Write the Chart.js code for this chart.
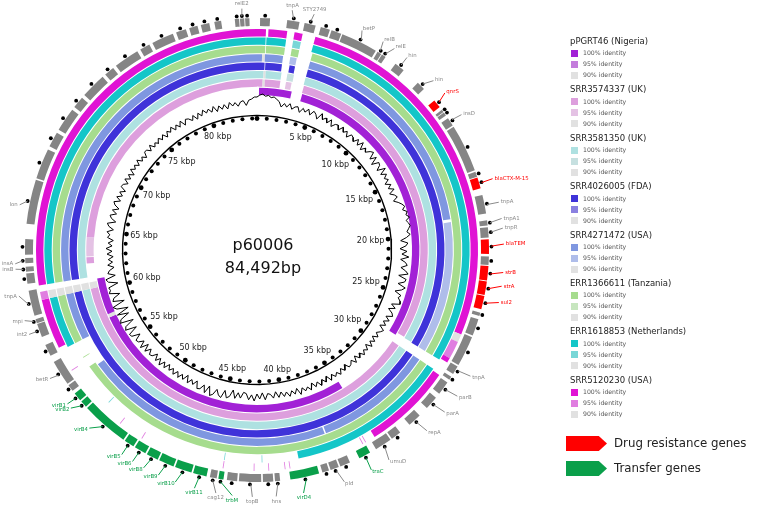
<!DOCTYPE html>
<html><head><meta charset="utf-8">
<script src="https://cdn.jsdelivr.net/npm/chart.js@4.4.0/dist/chart.umd.min.js"></script>
<style>
html,body{margin:0;padding:0;background:#fff;}
body{width:760px;height:505px;overflow:hidden;position:relative;font-family:"DejaVu Sans",sans-serif;}
canvas{position:absolute;left:0;top:0;}
.t{position:absolute;left:570px;font-size:8.5px;color:#222;white-space:nowrap;line-height:10px;}
.i{position:absolute;left:571px;font-size:6.2px;color:#555;white-space:nowrap;line-height:8px;}
.i span{display:inline-block;width:7px;height:7px;vertical-align:middle;margin-right:5px;}
.ttl{position:absolute;font-size:16px;color:#111;width:120px;text-align:center;line-height:18px;}
.arr{position:absolute;left:566px;width:41px;height:15px;clip-path:polygon(0 0,80% 0,100% 50%,80% 100%,0 100%);}
.big{position:absolute;left:614px;font-size:11.8px;color:#222;white-space:nowrap;line-height:14px;}
</style></head><body>
<canvas id="ring" width="760" height="505"></canvas>
<canvas id="over" width="760" height="505"></canvas>
<div class="ttl" style="left:203px;top:236px">p60006</div>
<div class="ttl" style="left:203px;top:259px">84,492bp</div>
<div id="legend"></div>
<div class="arr" style="top:436px;background:#f00"></div>
<div class="big" style="top:436px">Drug resistance genes</div>
<div class="arr" style="top:461px;background:#0a9f4a"></div>
<div class="big" style="top:461px">Transfer genes</div>
<script>
// ---------------- data ----------------
const GENOME = 84.492; // kbp
const sampleNames = ["pPGRT46 (Nigeria)","SRR3574337 (UK)","SRR3581350 (UK)","SRR4026005 (FDA)","SRR4271472 (USA)","ERR1366611 (Tanzania)","ERR1618853 (Netherlands)","SRR5120230 (USA)"];
const identityLevels = ["100% identity","95% identity","90% identity"];
const color100 = ["#a221d6","#dd9fdd","#aee1e1","#3f33d9","#7f97e0","#a6dc8e","#14c6c8","#e013d4"];
const color95  = ["#c47ddc","#e4c2e4","#c6e0e0","#8a80e0","#afbdea","#c7e6bf","#78d7d7","#e07ee0"];
const color90  = ["#e1e1e1","#e1e1e1","#e1e1e1","#e1e1e1","#e1e1e1","#e1e1e1","#e1e1e1","#e1e1e1"];

const hitsPPGRT46 = [[0.17,2.9,100],[3.8,28.5,100],[34.8,57.6,100],[57.6,57.9,90],[57.9,61.0,100]];
const hitsSRR3574337 = [[0,0.45,100],[0.45,0.62,90],[0.62,1.85,100],[2.3,2.75,95],[3.75,28.3,100],[29.1,60.3,100],[60.3,60.8,90],[62.3,62.8,100],[62.85,64.4,95],[64.4,84.492,100]];
const hitsSRR3581350 = [[0,0.5,100],[0.5,0.65,90],[0.65,1.85,100],[2.3,2.8,95],[3.7,28.35,100],[29.1,60.3,100],[60.3,60.8,90],[61.2,84.492,100]];
const hitsSRR4026005 = [[0,0.55,100],[0.6,1.8,100],[2.35,2.75,100],[3.7,28.4,100],[29.1,60.3,100],[60.3,60.8,90],[61.2,84.492,100]];
const hitsSRR4271472 = [[0,0.35,100],[0.35,0.55,90],[0.55,1.8,100],[2.3,2.75,95],[3.7,19.0,100],[19.2,28.4,95],[29.1,37.4,100],[37.5,55.0,100],[57.0,60.3,100],[60.3,60.8,90],[61.2,84.492,100]];
const hitsERR1366611 = [[0,0.55,100],[0.6,1.85,100],[2.3,2.8,100],[3.7,28.4,100],[29.1,55.2,100],[55.9,55.95,100],[57.0,60.3,100],[60.3,60.8,90],[61.2,84.492,100]];
const hitsERR1618853 = [[0,0.55,100],[0.6,1.85,100],[2.3,2.8,95],[3.6,28.4,100],[29.1,39.6,100],[41.9,41.95,95],[44.3,44.35,95],[52.6,52.65,95],[57.0,60.3,100],[60.3,60.8,90],[61.2,84.492,100]];
const hitsSRR5120230 = [[0,0.55,100],[0.7,1.85,100],[2.3,2.8,100],[3.6,26.4,100],[26.4,26.9,90],[26.9,28.0,95],[28.0,28.3,100],[29.2,34.7,100],[35.3,35.35,95],[35.5,35.55,95],[40.2,40.25,95],[40.5,40.55,95],[41.5,41.55,95],[42.4,42.45,95],[44.3,44.35,95],[49.6,49.65,95],[51.2,51.25,95],[55.6,55.65,95],[57.2,60.3,100],[60.3,60.8,95],[61.2,84.492,100]];
const sampleHits = [hitsPPGRT46,hitsSRR3574337,hitsSRR3581350,hitsSRR4026005,hitsSRR4271472,hitsERR1366611,hitsERR1618853,hitsSRR5120230];

const genes = [[67.6,69.4,"g"],[69.6,70.5,"g"],[70.7,72.1,"g"],[72.3,73.0,"g"],[73.2,74.7,"g"],[74.9,75.5,"g"],[75.7,77.2,"g"],[77.4,78.0,"g"],[78.2,79.5,"g"],[79.7,80.3,"g"],[80.5,81.0,"g"],[81.2,81.7,"g"],[82.0,82.4,"g"],[83.2,83.45,"g"],[83.5,83.75,"g"],[83.8,84.05,"g"],[0.18,0.76,"g"],[1.76,2.48,"g"],[2.78,3.44,"g"],[3.75,4.3,"g"],[4.4,5.0,"g"],[5.07,7.23,"g"],[7.35,7.6,"g"],[7.65,7.9,"g"],[8.6,9.2,"g"],[10.3,10.8,"g"],[11.7,12.2,"r"],[12.4,12.55,"g"],[12.6,12.8,"g"],[13.0,13.5,"g"],[13.6,16.4,"g"],[16.5,16.8,"g"],[16.85,17.5,"r"],[17.9,19.0,"g"],[19.4,19.7,"g"],[19.8,20.4,"g"],[20.5,21.35,"r"],[21.5,22.0,"g"],[22.05,22.9,"r"],[22.95,23.75,"r"],[23.8,24.6,"r"],[24.8,25.0,"g"],[25.2,26.2,"g"],[26.3,28.1,"g"],[28.2,28.7,"g"],[28.9,29.1,"g"],[29.3,30.1,"g"],[30.4,31.2,"g"],[31.8,32.6,"g"],[33.3,33.9,"g"],[34.0,35.0,"g"],[35.4,36.1,"t"],[36.7,37.3,"g"],[37.4,37.9,"g"],[38.0,38.4,"g"],[38.6,40.3,"t"],[40.9,41.2,"g"],[41.3,41.9,"g"],[42.0,43.3,"g"],[43.4,44.0,"g"],[44.2,44.5,"t"],[44.6,45.0,"g"],[45.2,46.0,"t"],[46.1,47.1,"t"],[47.2,48.1,"t"],[48.2,48.9,"t"],[49.0,49.7,"t"],[49.8,50.4,"t"],[50.5,53.3,"t"],[53.4,53.8,"t"],[53.9,54.4,"t"],[54.6,55.0,"g"],[55.1,56.6,"g"],[57.0,57.7,"g"],[58.2,59.0,"g"],[59.05,59.3,"g"],[59.5,61.0,"g"],[61.4,62.0,"g"],[62.1,62.4,"g"],[62.6,62.9,"g"],[63.1,64.0,"g"],[64.9,67.5,"g"]];

const labelNames = ["relE2","tnpA","STY2749","betP","relB","relE","hin","hin","qnrS","insD","blaCTX-M-15","tnpA","tnpA1","tnpR","blaTEM","strB","strA","sul2","tnpA","parB","parA","repA","umuD","traC","pld","virD4","hns","topB","trbM","cag12","virB11","virB10","virB9","virB8","virB6","virB5","virB4","virB2","virB1","betR","int2","mpi","tnpA","insB","insA","lon"];
const labelGeneAt = [83.6,2.1,3.1,6.2,7.45,7.8,8.9,10.55,11.95,13.2,17.2,18.5,19.55,20.1,20.9,22.5,23.35,24.2,28.4,29.7,30.8,32.2,34.5,35.75,37.6,39.4,41.05,42.6,44.35,44.8,45.6,46.6,47.65,48.55,49.35,50.1,51.9,53.6,54.15,55.8,58.6,59.2,60.2,62.25,62.75,66.2];
const labelAt =     [83.65,1.96,3.2,6.0,7.32,8.05,8.9,10.84,11.76,13.26,17.17,18.5,19.4,19.93,20.8,22.35,23.1,24.0,28.3,29.6,30.7,32.1,34.7,35.8,37.4,39.7,41.2,42.5,43.6,44.5,45.7,46.8,47.8,48.7,49.4,50.1,52.4,53.9,54.2,55.9,58.6,59.4,60.8,62.3,62.6,65.9];
const labelClass = ["g","g","g","g","g","g","g","g","r","g","r","g","g","g","r","r","r","r","g","g","g","g","g","t","g","t","g","g","t","g","t","t","t","t","t","t","t","t","t","g","g","g","g","g","g","g"];

// GC content deviation, one value per 0.25 kbp
const gcDeviation = [
 6,8,9,7,8,6,7,5,3,-2,2,-1,3,-2,1,2,-3,2,-1,3,
 -2,3,1,-3,4,-1,2,-2,3,-3,1,2,-2,3,-1,2,-3,2,1,-2,
 3,-2,4,-3,2,-1,3,5,-2,4,-4,3,2,-3,5,-2,3,-1,2,-3,
 2,-2,3,-3,1,3,-2,2,5,7,4,8,6,9,5,7,8,6,4,7,
 3,-3,4,2,-4,3,-2,5,-3,2,4,-2,3,6,-3,5,4,-2,6,3,
 -3,4,2,5,6,-2,3,-3,2,4,-2,3,-2,2,-3,3,1,-2,2,-3,
 2,-2,3,-3,2,-1,3,-2,2,-3,3,-2,1,2,-3,2,-2,3,-1,2,
 -2,3,-3,2,-2,3,-2,2,-3,3,-1,2,-2,4,-3,2,-2,3,-2,2,
 -3,2,-4,2,-2,-3,3,-4,2,-3,4,-2,3,-3,-4,2,-3,3,-5,2,
 4,-3,5,3,-2,4,6,-3,5,-2,3,4,-3,2,-2,3,-4,2,-2,3,
 -2,3,-2,2,-3,3,-2,4,-2,3,-3,2,3,-2,4,-3,5,-2,3,4,
 -3,5,6,-4,7,5,-5,8,6,-4,7,-6,5,8,-5,6,4,-3,7,5,
 6,-4,5,7,-3,4,2,-3,3,-2,2,-3,3,-2,4,-2,2,-3,3,1,
 4,-2,3,5,-3,2,4,-2,3,-3,2,4,-2,3,-2,2,-3,3,2,-2,
 3,-2,2,-3,3,-1,2,-2,3,-2,1,-3,2,2,-2,3,-2,1,-2,2,
 -2,2,-3,2,-1,3,-2,2,-2,3,-3,2,1,-2,2,-3,2,-2,3,-1,
 2,-2,3,-3,2,-2,2,-3,3,-1,2,-2,2,3,-2,3,4,6];
const gcStep = 0.25;

const tickKbp = [0,1,2,3,4,5,6,7,8,9,10,11,12,13,14,15,16,17,18,19,20,21,22,23,24,25,26,27,28,29,30,31,32,33,34,35,36,37,38,39,40,41,42,43,44,45,46,47,48,49,50,51,52,53,54,55,56,57,58,59,60,61,62,63,64,65,66,67,68,69,70,71,72,73,74,75,76,77,78,79,80,81,82,83,84];
const kbpLabelAt = [5,10,15,20,25,30,35,40,45,50,55,60,65,70,75,80];
const kbpLabels = kbpLabelAt.map(k=>k+" kbp");

// ---------------- geometry / style ----------------
const CX = 257, CY = 250;
const R_IN = 155, PITCH = 8.375, GAP = 1;
const R_GENE_IN = 224, R_GENE_OUT = 232;
const R_BACK = 134.5, R_TICK = 131.5, R_GC = 147, R_KLAB = 128, R_DOT = 234.5, R_LAB = 246.5;
const GC_SCALE = 1.0;
const classColor = {g:"#858585", r:"#ff0000", t:"#0a9f4a"};
const labelColor = {g:"#8a8a8a", r:"#ff0000", t:"#0a9f4a"};

// ---------------- legend ----------------
const lg = document.getElementById('legend');
sampleNames.forEach((n,i)=>{
  const y0 = 35.9 + 48.4*i;
  lg.insertAdjacentHTML('beforeend', `<div class="t" style="top:${y0}px">${n}</div>`);
  [color100[i],color95[i],color90[i]].forEach((c,j)=>{
    lg.insertAdjacentHTML('beforeend', `<div class="i" style="top:${y0+13.4+11*j}px"><span style="background:${c}"></span>${identityLevels[j]}</div>`);
  });
});

// ---------------- doughnut rings ----------------
function ringData(segs, colorOf){
  const data=[], colors=[]; let pos=0;
  segs.slice().sort((a,b)=>a[0]-b[0]).forEach(s=>{
    if (s[0]>pos){ data.push(s[0]-pos); colors.push('rgba(0,0,0,0)'); }
    data.push(s[1]-Math.max(s[0],pos)); colors.push(colorOf(s)); pos=s[1];
  });
  if (pos<GENOME){ data.push(GENOME-pos); colors.push('rgba(0,0,0,0)'); }
  return {data, backgroundColor:colors, borderWidth:0};
}
const R_OUT_RINGS = R_IN + 8*PITCH - GAP;
const datasets=[];
datasets.push({...ringData(genes, s=>classColor[s[2]]), weight:R_GENE_OUT-R_GENE_IN});
datasets.push({data:[GENOME], backgroundColor:['rgba(0,0,0,0)'], borderWidth:0, weight:R_GENE_IN-R_OUT_RINGS});
for (let k=7;k>=0;k--){
  datasets.push({...ringData(sampleHits[k], s=> s[2]===100?color100[k]:s[2]===95?color95[k]:color90[k]), weight:PITCH-GAP});
  if (k>0) datasets.push({data:[GENOME], backgroundColor:['rgba(0,0,0,0)'], borderWidth:0, weight:GAP});
}
new Chart(document.getElementById('ring'), {
  type:'doughnut',
  data:{labels:[], datasets},
  options:{responsive:false, animation:false, radius:R_GENE_OUT, cutout:(R_IN/R_GENE_OUT*100)+'%',
    layout:{padding:{left:0,top:0,right:760-2*CX,bottom:505-2*CY}},
    plugins:{legend:{display:false}, tooltip:{enabled:false}}, events:[]}
});

// ---------------- overlay ----------------
const polar = (kbp, r) => { const t = kbp/GENOME*2*Math.PI; return {x:r*Math.sin(t), y:r*Math.cos(t)}; };
const labelRadius = kbp => { const t = kbp/GENOME*2*Math.PI; return R_LAB + 2.5*Math.sin(t) - 2.5*Math.cos(t); };
const backbone = tickKbp.map(k=>polar(k,R_BACK)); backbone.push(polar(0,R_BACK));
const tickPts = tickKbp.map(k=>polar(k,R_TICK));
const gcPts = gcDeviation.map((v,i)=>polar(i*gcStep, R_GC+v*GC_SCALE)); gcPts.push(polar(0, R_GC+gcDeviation[0]*GC_SCALE));
const dots = genes.map(g=>polar((g[0]+g[1])/2,R_DOT));
const leaders = {g:[],r:[],t:[]};
labelGeneAt.forEach((k,i)=>{ const L=leaders[labelClass[i]]; L.push(polar(k,R_DOT)); L.push(polar(labelAt[i],labelRadius(labelAt[i])-2)); L.push({x:null,y:null}); });

const labelPlugin = {
  id:'labels',
  afterDatasetsDraw(chart){
    const {ctx, scales:{x,y}} = chart;
    const px = p => [x.getPixelForValue(p.x), y.getPixelForValue(p.y)];
    ctx.save();
    ctx.font = '8px "DejaVu Sans"'; ctx.fillStyle='#222'; ctx.textAlign='center'; ctx.textBaseline='middle';
    kbpLabelAt.forEach((k,i)=>{
      const t=k/GENOME*2*Math.PI, s=Math.sin(t), c=Math.cos(t);
      const w=ctx.measureText(kbpLabels[i]).width, h=8;
      const [X,Y]=px(polar(k, R_KLAB-(Math.abs(s)*w/2+Math.abs(c)*h/2)));
      ctx.fillText(kbpLabels[i],X,Y);
    });
    ctx.font = '5.4px "DejaVu Sans"';
    labelNames.forEach((n,i)=>{
      const k=labelAt[i], t=k/GENOME*2*Math.PI, s=Math.sin(t), c=Math.cos(t);
      const [X,Y]=px(polar(k,labelRadius(k)));
      ctx.fillStyle=labelColor[labelClass[i]];
      if (s>0.3){ctx.textAlign='left';} else if (s<-0.3){ctx.textAlign='right';} else ctx.textAlign='center';
      if (Math.abs(s)<=0.3) ctx.textBaseline = c>0?'bottom':'top'; else ctx.textBaseline='middle';
      ctx.fillText(n,X,Y);
    });
    ctx.restore();
  }
};
new Chart(document.getElementById('over'), {
  type:'scatter',
  data:{datasets:[
    {data:backbone, showLine:true, borderColor:'#000', borderWidth:1.4, pointRadius:0},
    {data:tickPts, showLine:false, pointRadius:(c)=> (c.dataIndex%5===0?2.4:2.0), pointBackgroundColor:'#000', pointBorderWidth:0},
    {data:gcPts, showLine:true, borderColor:'#000', borderWidth:1.0, pointRadius:0, fill:false},
    {data:leaders.g, showLine:true, borderColor:'#8a8a8a', borderWidth:1, pointRadius:0, spanGaps:false},
    {data:leaders.r, showLine:true, borderColor:'#ff0000', borderWidth:1, pointRadius:0, spanGaps:false},
    {data:leaders.t, showLine:true, borderColor:'#0a9f4a', borderWidth:1, pointRadius:0, spanGaps:false},
    {data:dots, showLine:false, pointRadius:1.9, pointBackgroundColor:'#000', pointBorderWidth:0}
  ]},
  options:{responsive:false, animation:false, layout:{padding:0, autoPadding:false},
    scales:{x:{type:'linear',min:-CX,max:760-CX,display:false}, y:{type:'linear',min:-(505-CY),max:CY,display:false}},
    plugins:{legend:{display:false}, tooltip:{enabled:false}}, events:[]},
  plugins:[labelPlugin]
});
</script>
</body></html>
